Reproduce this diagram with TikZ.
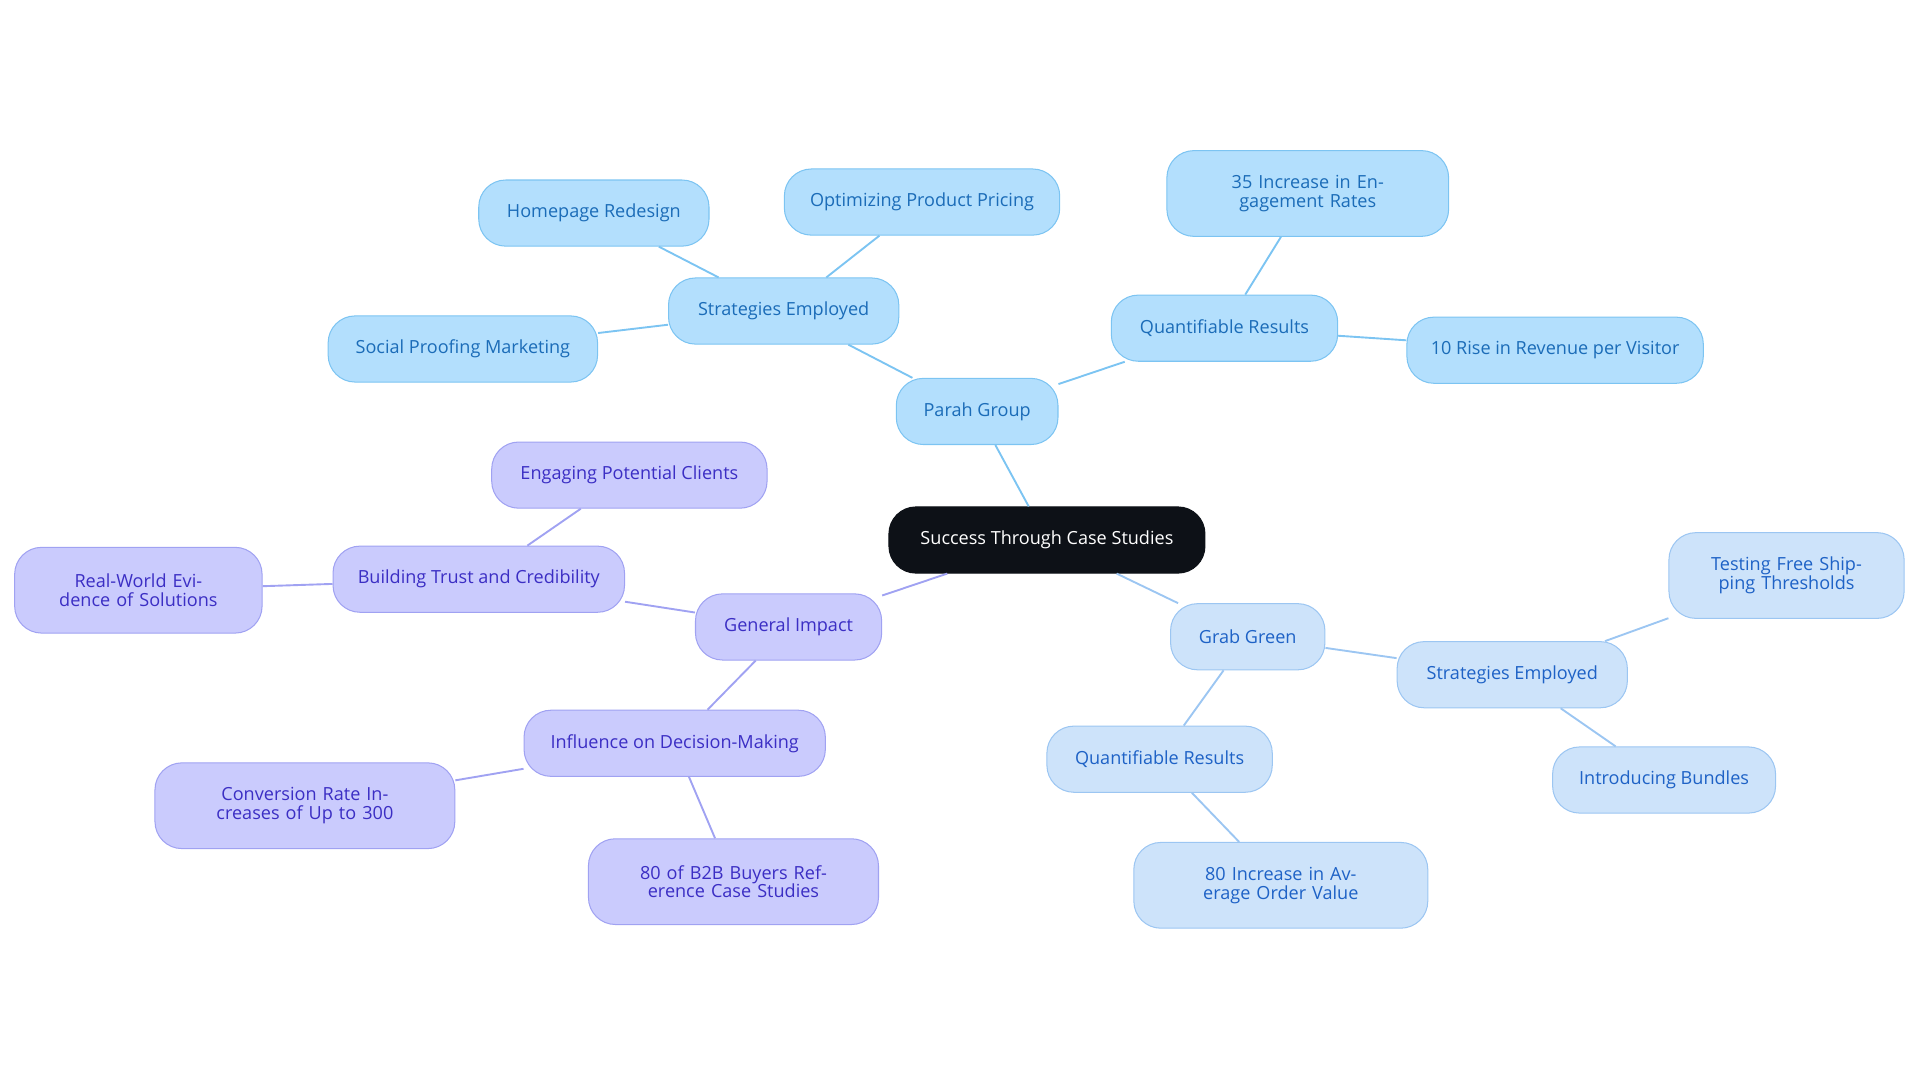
\documentclass[tikz,border=0pt]{standalone}
\usepackage{fontspec}
\setmainfont{Open Sans}
\usetikzlibrary{positioning}

\definecolor{rootfill}{HTML}{0D1117}
\definecolor{pfill}{HTML}{B3DFFD}
\definecolor{pline}{HTML}{7CC4F2}
\definecolor{ptext}{HTML}{1B6CB8}
\definecolor{gfill}{HTML}{CDE3FA}
\definecolor{gline}{HTML}{9CC6F2}
\definecolor{gtext}{HTML}{1E62C6}
\definecolor{ifill}{HTML}{CACBFD}
\definecolor{iline}{HTML}{A0A2F2}
\definecolor{itext}{HTML}{3B2EC4}

\tikzset{
  box/.style={draw, rounded corners=0.55cm, line width=0.6pt, align=center,
    minimum height=1.35cm, inner sep=2pt, font=\fontsize{10.5}{11}\selectfont},
  root/.style={box, fill=rootfill, draw=rootfill, text=white},
  parah/.style={box, fill=pfill, draw=pline, text=ptext},
  grab/.style={box, fill=gfill, draw=gline, text=gtext},
  impact/.style={box, fill=ifill, draw=iline, text=itext},
  tall/.style={minimum height=1.75cm},
  pedge/.style={draw=pline, line width=1.1pt},
  gedge/.style={draw=gline, line width=1.1pt},
  iedge/.style={draw=iline, line width=1.1pt}
}

\begin{document}
\begin{tikzpicture}[x=0.025cm,y=-0.025cm]
    \useasboundingbox (0,0) rectangle (1568,884);

    % centre
    \node [root, minimum width=6.45cm] (C) at (855,441) {Success Through Case Studies};

    % Parah Group branch
    \node [parah, minimum width=3.3cm] (P) at (798,336) {Parah Group};
    \node [parah, minimum width=4.7cm] (PS) at (640,254) {Strategies Employed};
    \node [parah, minimum width=4.7cm] (PS1) at (485,174) {Homepage Redesign};
    \node [parah, minimum width=5.62cm] (PS2) at (753,165) {Optimizing Product Pricing};
    \node [parah, minimum width=5.5cm] (PS3) at (378,285) {Social Proofing Marketing};
    \node [parah, minimum width=4.62cm] (PQ) at (1000,268) {Quantifiable Results};
    \node [parah, tall, minimum width=5.75cm, text width=5cm] (PQ1) at (1068,158) {35 Increase in Engagement Rates};
    \node [parah, minimum width=6.05cm] (PQ2) at (1270,286) {10 Rise in Revenue per Visitor};

    % General Impact branch
    \node [impact, minimum width=3.8cm] (I) at (644,512) {General Impact};
    \node [impact, minimum width=5.95cm] (IB) at (391,473) {Building Trust and Credibility};
    \node [impact, minimum width=5.62cm] (IB1) at (514,388) {Engaging Potential Clients};
    \node [impact, tall, minimum width=5.05cm, text width=4.5cm] (IB2) at (113,482) {Real-World Evidence of Solutions};
    \node [impact, minimum width=6.15cm] (ID) at (551,607) {Influence on Decision-Making};
    \node [impact, tall, minimum width=6.12cm, text width=5.3cm] (ID1) at (249,658) {Conversion Rate Increases of Up to 300};
    \node [impact, tall, minimum width=5.92cm, text width=5.2cm] (ID2) at (599,720) {80 of B2B Buyers Reference Case Studies};

    % Grab Green branch
    \node [grab, minimum width=3.15cm] (G) at (1019,520) {Grab Green};
    \node [grab, minimum width=4.7cm] (GS) at (1235,551) {Strategies Employed};
    \node [grab, tall, minimum width=4.8cm, text width=4.2cm] (GS1) at (1459,470) {Testing Free Shipping Thresholds};
    \node [grab, minimum width=4.55cm] (GS2) at (1359,637) {Introducing Bundles};
    \node [grab, minimum width=4.6cm] (GQ) at (947,620) {Quantifiable Results};
    \node [grab, tall, minimum width=6cm, text width=5.2cm] (GQ1) at (1046,723) {80 Increase in Average Order Value};

    \begin{scope}[on background layer/.style={}]
    \end{scope}

    % connectors
    \path [pedge] (C) -- (P) (P) -- (PS) (PS) -- (PS1) (PS) -- (PS2) (PS) -- (PS3)
        (P) -- (PQ) (PQ) -- (PQ1) (PQ) -- (PQ2);
    \path [iedge] (C) -- (I) (I) -- (IB) (IB) -- (IB1) (IB) -- (IB2)
        (I) -- (ID) (ID) -- (ID1) (ID) -- (ID2);
    \path [gedge] (C) -- (G) (G) -- (GS) (GS) -- (GS1) (GS) -- (GS2)
        (G) -- (GQ) (GQ) -- (GQ1);
\end{tikzpicture}
\end{document}
